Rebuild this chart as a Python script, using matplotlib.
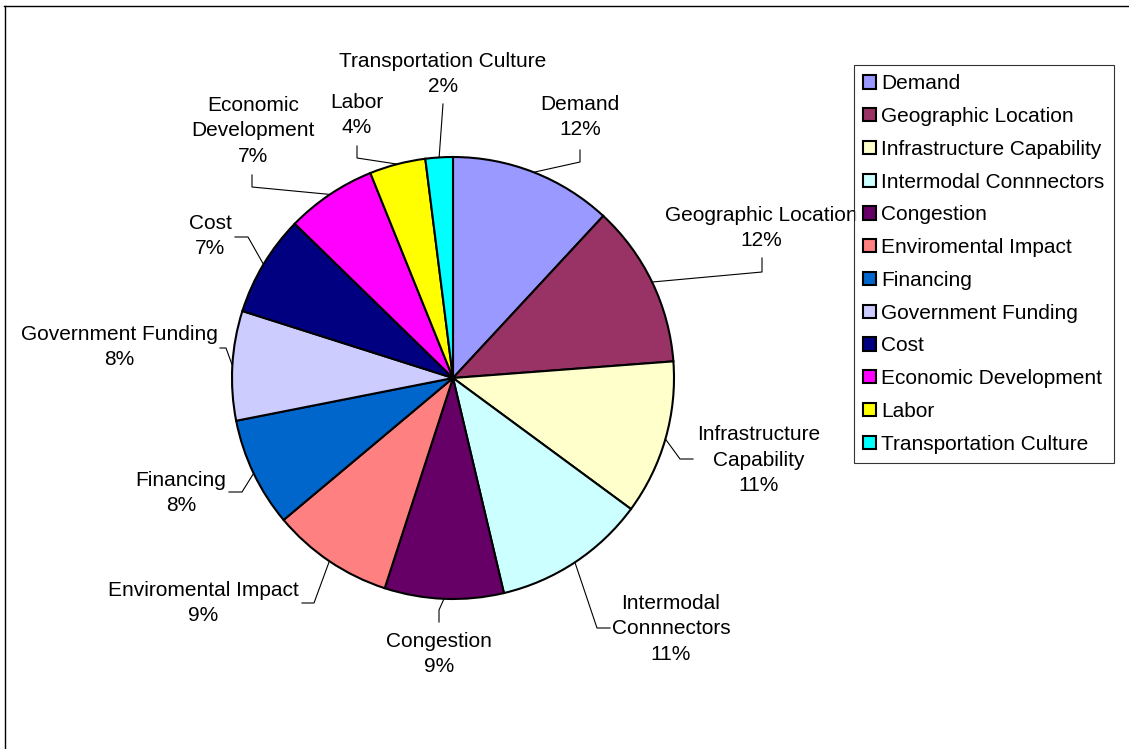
import numpy as np
import matplotlib
matplotlib.use("Agg")
import matplotlib.pyplot as plt

# dati (quote in %)
categorie = ["Demand", "Geographic Location", "Infrastructure Capability",
             "Intermodal Connnectors", "Congestion", "Enviromental Impact",
             "Financing", "Government Funding", "Cost", "Economic Development",
             "Labor", "Transportation Culture"]
valori = [11.9, 11.9, 11.3, 11.2, 8.7, 8.9, 8.0, 8.0, 7.4, 6.6, 4.1, 2.0]
etichette = ["Demand", "Geographic Location", "Infrastructure\nCapability",
             "Intermodal\nConnnectors", "Congestion", "Enviromental Impact",
             "Financing", "Government Funding", "Cost", "Economic\nDevelopment",
             "Labor", "Transportation Culture"]
colori = ["#9999FF", "#993366", "#FFFFCC", "#CCFFFF", "#660066", "#FF8080",
          "#0066CC", "#CCCCFF", "#000080", "#FF00FF", "#FFFF00", "#00FFFF"]

plt.rcParams["font.family"] = ["Liberation Sans", "DejaVu Sans"]
W, H = 1129, 749
FS = 15

fig = plt.figure(figsize=(W / 100, H / 100), dpi=100)
ax = fig.add_axes([0, 0, 1, 1])

# centro e raggio della torta in pixel
cx, cy, R = 453, H - 378, 221

wedges, _ = ax.pie(valori, colors=colori, startangle=90, counterclock=False,
                   center=(cx, cy), radius=R,
                   wedgeprops=dict(edgecolor="black", linewidth=1.5))
ax.set_xlim(0, W)
ax.set_ylim(0, H)
ax.set_aspect("equal")
ax.axis("off")

# posizione delle etichette (centro testo) e gomiti delle linee guida, coordinate immagine
pos_testo = [(580, 117), (761, 228), (759, 460), (671, 629), (439, 654),
             (203, 603), (181, 493), (119, 347), (210, 236), (253, 131),
             (357, 115), (443, 74)]
gomiti = [[(580, 150), (580, 162)], [(762, 258), (762, 272)],
          [(693, 459), (680, 459)], [(610, 628), (597, 628)],
          [(439, 622), (439, 610)], [(302, 603), (314, 603)],
          [(229, 492), (242, 492)], [(220, 348), (226, 348)],
          [(235, 237), (248, 237)], [(252, 175), (252, 187)],
          [(357, 146), (357, 158)], [(443, 104)]]

totale = sum(valori)
for w, lab, v, (tx, ty), gom in zip(wedges, etichette, valori, pos_testo, gomiti):
    perc = round(v / totale * 100)
    ax.text(tx, H - ty, f"{lab}\n{perc}%", ha="center", va="center",
            fontsize=FS, linespacing=1.42)
    ang = np.deg2rad((w.theta1 + w.theta2) / 2)
    ex, ey = cx + R * np.cos(ang), cy + R * np.sin(ang)
    xs = [p[0] for p in gom] + [ex]
    ys = [H - p[1] for p in gom] + [ey]
    ax.plot(xs, ys, color="black", lw=0.8)

# legenda
leg = fig.legend(wedges, categorie, loc="upper left",
                 bbox_to_anchor=(854 / W, (H - 65) / H), borderaxespad=0,
                 fontsize=FS, handlelength=0.6, handleheight=0.6,
                 handletextpad=0.25, labelspacing=0.66, borderpad=0.45,
                 fancybox=False, frameon=True)
leg.get_frame().set_edgecolor("black")
leg.get_frame().set_linewidth(0.8)

# bordo superiore e sinistro
ax.plot([4, W], [H - 6, H - 6], color="black", lw=1)
ax.plot([5, 5], [H - 6, 0], color="black", lw=1)

fig.savefig("out.png", dpi=100)
